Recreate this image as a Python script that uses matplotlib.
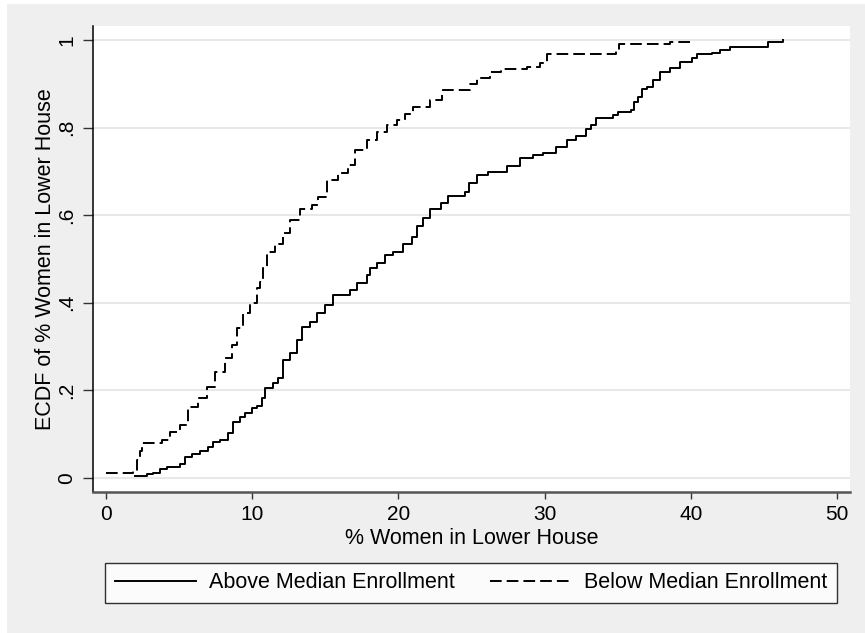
import numpy as np
import matplotlib
matplotlib.use("Agg")
import matplotlib.pyplot as plt
from matplotlib.patches import Rectangle

plt.rcParams['font.family'] = ['Liberation Sans', 'DejaVu Sans']

# ECDF knots (x = % women, y = cumulative share), step-post
above_x = [2.0, 2.8, 3.24, 3.69, 4.15, 5.06, 5.4, 5.86, 6.43, 7.0, 7.34, 7.8, 8.37,
           8.71, 9.17, 9.51, 9.97, 10.31, 10.65, 10.88, 11.44, 11.79, 12.13, 12.59,
           13.04, 13.38, 13.95, 14.41, 14.98, 15.55, 16.69, 17.15, 17.83, 18.06,
           18.52, 19.08, 19.65, 20.34, 20.9, 21.25, 21.7, 22.16, 22.9, 23.4, 24.55,
           24.8, 25.35, 26.15, 27.4, 28.3, 29.23, 29.9, 30.8, 31.5, 32.17, 32.8,
           33.2, 33.5, 34.7, 35.0, 35.9, 36.1, 36.4, 36.64, 36.98, 37.43, 37.9,
           38.58, 39.26, 40.06, 40.4, 41.42, 42.0, 42.68, 45.3, 46.33]
above_y = [0.004, 0.0085, 0.011, 0.019, 0.024, 0.031, 0.047, 0.054, 0.062, 0.071,
           0.081, 0.086, 0.101, 0.128, 0.138, 0.147, 0.159, 0.164, 0.181, 0.204,
           0.216, 0.227, 0.269, 0.284, 0.315, 0.345, 0.356, 0.376, 0.395, 0.417,
           0.429, 0.444, 0.463, 0.478, 0.490, 0.509, 0.516, 0.535, 0.549, 0.575,
           0.593, 0.613, 0.627, 0.644, 0.653, 0.673, 0.692, 0.699, 0.711, 0.730,
           0.737, 0.741, 0.756, 0.771, 0.781, 0.796, 0.806, 0.821, 0.829, 0.836,
           0.840, 0.859, 0.870, 0.887, 0.893, 0.909, 0.928, 0.935, 0.950, 0.958,
           0.968, 0.971, 0.977, 0.985, 0.995, 1.0]

below_x = [0.0, 1.87, 2.1, 2.3, 2.44, 3.8, 4.38, 5.06, 5.63, 6.31, 6.88, 7.45, 8.14,
           8.6, 8.94, 9.39, 9.85, 10.31, 10.53, 10.76, 11.0, 11.56, 12.13, 12.59,
           13.27, 14.07, 14.52, 15.1, 15.89, 16.57, 17.03, 17.83, 18.52, 19.2,
           19.88, 20.45, 21.0, 22.16, 22.96, 24.9, 25.35, 26.26, 27.0, 28.8, 29.7,
           30.14, 34.9, 35.1, 38.6, 40.0]
below_y = [0.010, 0.016, 0.040, 0.062, 0.079, 0.086, 0.105, 0.120, 0.162, 0.181,
           0.208, 0.242, 0.273, 0.303, 0.341, 0.376, 0.398, 0.433, 0.448, 0.480,
           0.516, 0.535, 0.558, 0.589, 0.613, 0.623, 0.642, 0.680, 0.695, 0.714,
           0.749, 0.771, 0.790, 0.806, 0.817, 0.830, 0.846, 0.862, 0.886, 0.899,
           0.914, 0.926, 0.933, 0.939, 0.947, 0.967, 0.977, 0.990, 0.996, 1.0]

x_ticks = [0, 10, 20, 30, 40, 50]
y_ticks = [0, 0.2, 0.4, 0.6, 0.8, 1.0]
y_tick_labels = ["0", ".2", ".4", ".6", ".8", "1"]

W, H = 865, 633
fig = plt.figure(figsize=(W / 100, H / 100), dpi=100)
fig.patch.set_facecolor("white")
# Stata-like light gray graph region with thin white strip top/left
fig.add_artist(Rectangle((7 / W, 0), 1, 1 - 4 / H, transform=fig.transFigure,
                         facecolor="#efefef", edgecolor="none", zorder=-10))

ax = fig.add_axes([92.7 / W, 1 - 492 / H, (850 - 92.7) / W, (492 - 26) / H])
ax.set_facecolor("white")

ax.plot(above_x, above_y, drawstyle="steps-post", color="black", lw=1.4,
        label="Above Median Enrollment")
ax.plot(below_x, below_y, drawstyle="steps-post", color="black", lw=1.4,
        dashes=(6, 2.6), label="Below Median Enrollment")

ax.set_xlim(-0.91, 50.89)
ax.set_ylim(-0.0327, 1.032)
ax.set_xticks(x_ticks)
ax.set_yticks(y_ticks)
ax.set_yticklabels(y_tick_labels, rotation=90, va="center")
ax.tick_params(axis="both", labelsize=15, width=1.0, color="#333333")
ax.tick_params(axis="x", length=5, pad=4)
ax.tick_params(axis="y", length=7, pad=5)
ax.grid(axis="y", color="#e8e8e8", lw=1.5)
ax.set_axisbelow(True)
for s in ["top", "right"]:
    ax.spines[s].set_visible(False)
ax.spines["left"].set_color("black")
ax.spines["left"].set_linewidth(1.1)
ax.spines["bottom"].set_color("#555555")
ax.spines["bottom"].set_linewidth(1.8)

ax.set_xlabel("% Women in Lower House", fontsize=15.5, labelpad=3)
ax.set_ylabel("ECDF of % Women in Lower House", fontsize=15.5, labelpad=1)

handles, labels = ax.get_legend_handles_labels()
leg = fig.legend(handles, labels, ncol=2, loc="center",
                 bbox_to_anchor=(471 / W, 1 - 583 / H),
                 fontsize=15.5, frameon=True, fancybox=False, edgecolor="black",
                 handlelength=3.75, handletextpad=0.6, columnspacing=1.65,
                 borderpad=0.45)
leg.get_frame().set_linewidth(1.0)

fig.savefig("out.png", dpi=100, facecolor=fig.get_facecolor())
